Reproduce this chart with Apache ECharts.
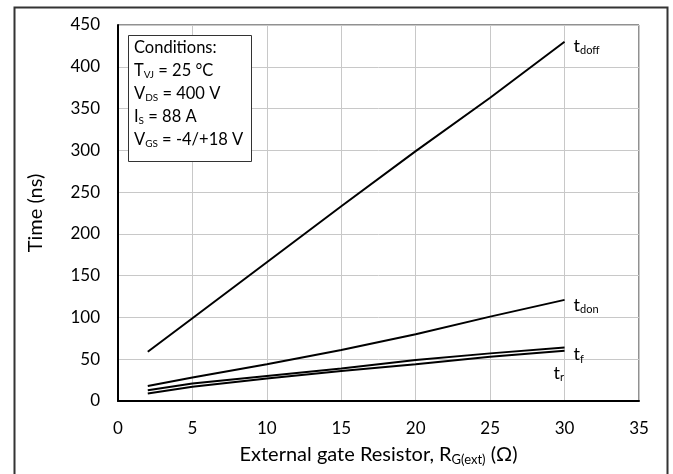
<!DOCTYPE html>
<html><head><meta charset="utf-8">
<script src="https://cdn.jsdelivr.net/npm/echarts@6/dist/echarts.min.js"></script>
<style>html,body{margin:0;padding:0;background:#fff}#c{width:673px;height:474px}</style>
</head><body><div id="c"></div>
<script>
const rg = [2, 5, 10, 15, 20, 25, 30];
const tdoff = [59, 99, 166, 233, 299, 363, 430];
const tdon = [18, 28, 44, 61, 80, 101, 121];
const tf = [13, 21, 30, 39, 49, 57, 64];
const tr = [9, 17, 27, 36, 44, 53, 60];
const xTicks = [0, 5, 10, 15, 20, 25, 30, 35];
const yTicks = [0, 50, 100, 150, 200, 250, 300, 350, 400, 450];
const seriesNames = [['t','doff'], ['t','don'], ['t','f'], ['t','r']];
const conditions = ['Conditions:', ['T','VJ',' = 25 °C'], ['V','DS',' = 400 V'], ['I','S',' = 88 A'], ['V','GS',' = -4/+18 V']];

const F = 'Lato, "Open Sans", sans-serif';
const rich = {
  t: {fontFamily: F, fontSize: 18, color: '#000'},
  s: {fontFamily: F, fontSize: 11, color: '#000', padding: [10,0,0,0]}
};
const chart = echarts.init(document.getElementById('c'));
const sets = [tdoff, tdon, tf, tr];
const labelOff = [[4, 4], [4, 5], [4, 7], [-16, 22]];
const series = sets.map((vals, i) => ({
  type: 'line',
  name: seriesNames[i].join(''),
  data: vals.map((v, j) => [rg[j], v]),
  symbol: 'none', showSymbol: false,
  lineStyle: {color: '#000', width: 2},
  smooth: false,
  endLabel: {
    show: true, distance: 5, offset: labelOff[i],
    formatter: '{t|' + seriesNames[i][0] + '}{s|' + seriesNames[i][1] + '}',
    rich: rich
  },
  silent: true, z: 5
}));

const condText = conditions.map(c => Array.isArray(c) ? '{n|' + c[0] + '}{b|' + c[1] + '}{n|' + c[2] + '}' : '{n|' + c + '}').join('\n');

chart.setOption({
  animation: false,
  grid: {left: 118, right: 34, top: 25, bottom: 73, show: true, borderColor: '#222', borderWidth: 1},
  xAxis: {
    type: 'value', min: 0, max: 35, interval: 5,
    axisLine: {show: true, lineStyle: {color: '#000', width: 2}},
    axisTick: {show: false},
    axisLabel: {fontFamily: F, fontSize: 17, color: '#000', margin: 19},
    splitLine: {show: true, lineStyle: {color: '#c8c8c8', width: 1}},
    name: '{n|External gate Resistor, R}{b|G(ext)}{n| (Ω)}',
    nameLocation: 'middle', nameGap: 42,
    nameTextStyle: {rich: {n: {fontFamily: F, fontSize: 20, color: '#000'}, b: {fontFamily: F, fontSize: 13, color: '#000', padding: [10,0,0,0]}}}
  },
  yAxis: {
    type: 'value', min: 0, max: 450, interval: 50,
    axisLine: {show: true, lineStyle: {color: '#000', width: 2}},
    axisTick: {show: false},
    axisLabel: {fontFamily: F, fontSize: 17, color: '#000', margin: 18},
    splitLine: {show: true, lineStyle: {color: '#c8c8c8', width: 1}},
    name: 'Time (ns)', nameLocation: 'middle', nameGap: 72,
    nameTextStyle: {fontFamily: F, fontSize: 20, color: '#000'}
  },
  series: series,
  graphic: [
    {type: 'rect', left: 12, top: 5, shape: {width: 653, height: 480}, style: {fill: 'none', stroke: '#333', lineWidth: 2}, silent: true},
    {type: 'rect', left: 128, top: 35, z: 10, shape: {width: 123, height: 126}, style: {fill: '#fff', stroke: '#333', lineWidth: 1}},
    {type: 'text', left: 134, top: 39, z: 11, style: {
      text: condText,
      rich: {
        n: {fontFamily: F, fontSize: 16.5, color: '#000', lineHeight: 23},
        b: {fontFamily: F, fontSize: 10, color: '#000', lineHeight: 23, padding: [8,0,0,0]}
      }
    }}
  ]
});
</script></body></html>
